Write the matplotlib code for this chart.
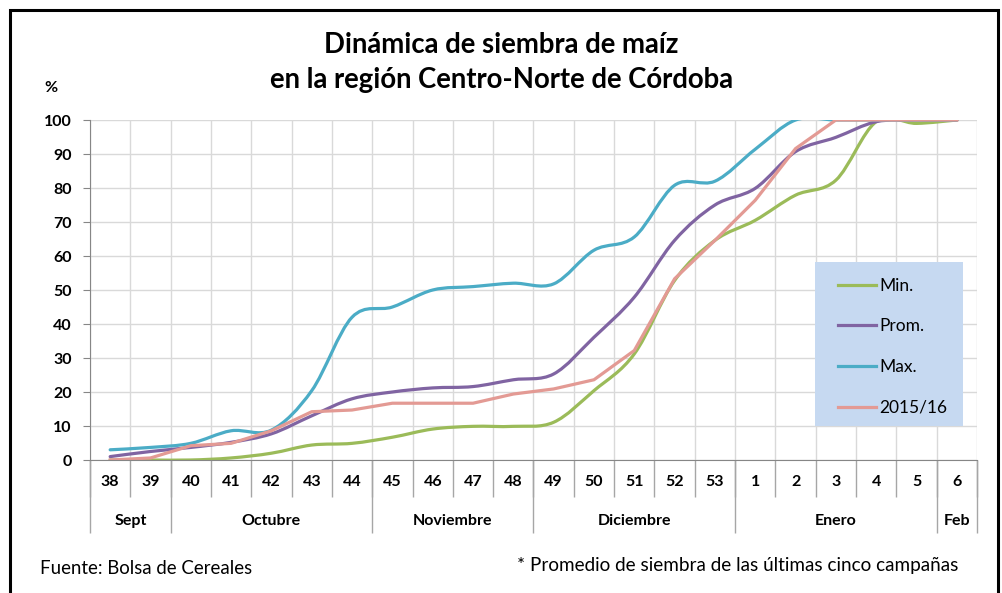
import numpy as np
import matplotlib
matplotlib.use('Agg')
import matplotlib.pyplot as plt
from matplotlib.path import Path
from matplotlib.patches import PathPatch, Rectangle
from matplotlib.lines import Line2D
import matplotlib.transforms as mtransforms

plt.rcParams['font.family'] = ['Lato', 'DejaVu Sans']

# semanas de siembra
weeks = ['38', '39', '40', '41', '42', '43', '44', '45', '46', '47', '48',
         '49', '50', '51', '52', '53', '1', '2', '3', '4', '5', '6']
months = ['Sept', 'Octubre', 'Noviembre', 'Diciembre', 'Enero', 'Feb']
month_span = [2, 5, 4, 5, 5, 1]

min_vals = [0, 0, 0, 0.6, 2, 4.4, 4.9, 6.7, 9.1, 9.9, 9.9,
            11.1, 20.4, 31.2, 52.8, 64.6, 70.5, 77.9, 82.3, 99.5, 99, 100]
prom_vals = [1, 2.5, 3.7, 5.2, 7.7, 13, 18, 20, 21.2, 21.6, 23.6,
             25.3, 36.1, 47.9, 64.6, 75, 79.9, 90.7, 94.9, 99.5, 100, 100]
max_vals = [3, 3.7, 4.9, 8.6, 8.8, 20.4, 42, 45, 50, 51, 52,
            51.8, 61.7, 65.6, 80.8, 82, 91.4, 100, 100, 100, 100, 100]
camp_vals = [0, 0.6, 4.2, 4.9, 8.6, 14.2, 14.7, 16.7, 16.7, 16.7, 19.4,
             20.9, 23.6, 32.2, 53.3, 64.6, 76.4, 91.6, 100, 100, 100, 100]

c_min = '#9BBB59'
c_prom = '#8064A2'
c_max = '#4BACC6'
c_camp = '#E39A94'


def smooth_path(y):
    # curva suavizada tipo Excel (Bezier por Catmull-Rom)
    x = np.arange(len(y), dtype=float)
    y = np.asarray(y, dtype=float)
    n = len(y)
    verts = [(x[0], y[0])]
    codes = [Path.MOVETO]
    for i in range(n - 1):
        i0 = max(i - 1, 0)
        i3 = min(i + 2, n - 1)
        c1 = (x[i] + (x[i + 1] - x[i0]) / 6, y[i] + (y[i + 1] - y[i0]) / 6)
        c2 = (x[i + 1] - (x[i3] - x[i]) / 6, y[i + 1] - (y[i3] - y[i]) / 6)
        verts += [c1, c2, (x[i + 1], y[i + 1])]
        codes += [Path.CURVE4] * 3
    return Path(verts, codes)


fig = plt.figure(figsize=(10.03, 5.93), dpi=100)
ax = fig.add_axes([90 / 1003, 1 - 460 / 593, 887 / 1003, 340 / 593])

lw = 2.3
for vals, col in [(min_vals, c_min), (prom_vals, c_prom), (max_vals, c_max)]:
    ax.add_patch(PathPatch(smooth_path(vals), fill=False, edgecolor=col,
                           lw=lw, capstyle='round', joinstyle='round', zorder=3))
ax.plot(range(len(weeks)), camp_vals, color=c_camp, lw=lw, zorder=3,
        solid_joinstyle='round')

ax.set_xlim(-0.5, len(weeks) - 0.5)
ax.set_ylim(0, 100)
ax.set_yticks(range(0, 101, 10))
ax.set_xticks(np.arange(-0.5, len(weeks), 1))
ax.set_xticklabels([])
ax.tick_params(axis='x', length=0)
ax.tick_params(axis='y', length=5, color='#868686', pad=8, labelsize=11.5)
for lab in ax.get_yticklabels():
    lab.set_fontweight('bold')
ax.grid(True, color='#D9D9D9', lw=1)
ax.set_axisbelow(True)
for s in ['top', 'right']:
    ax.spines[s].set_visible(False)
for s in ['left', 'bottom']:
    ax.spines[s].set_color('#868686')
    ax.spines[s].set_zorder(4)

# etiquetas de semanas y meses bajo el eje
trans = mtransforms.blended_transform_factory(ax.transData, ax.transAxes)
for i, w in enumerate(weeks):
    ax.text(i, -0.065, w, transform=trans, ha='center', va='center',
            fontsize=11.5, fontweight='bold')
bounds = np.cumsum([0] + month_span) - 0.5
ax.vlines(np.arange(-0.5, len(weeks), 1), -0.11, 0, transform=trans,
          colors='#A6A6A6', lw=1, clip_on=False)
ax.vlines(bounds, -0.215, 0, transform=trans, colors='#A6A6A6', lw=1,
          clip_on=False)
for m, a, b in zip(months, bounds[:-1], bounds[1:]):
    ax.text((a + b) / 2, -0.178, m, transform=trans, ha='center',
            va='center', fontsize=11.5, fontweight='bold')

# leyenda con fondo celeste
ax.add_patch(Rectangle((0.817, 0.1), 0.167, 0.482, transform=ax.transAxes,
                       facecolor='#C6D9F1', edgecolor='none', zorder=2.5))
handles = [Line2D([], [], color=c, lw=lw) for c in [c_min, c_prom, c_max, c_camp]]
leg = ax.legend(handles, ['Min.', 'Prom.', 'Max.', '2015/16'],
                loc='upper left', bbox_to_anchor=(0.843, 0.536),
                fontsize=12.5, frameon=False, labelspacing=1.42,
                handlelength=2.2, handletextpad=0.2, borderpad=0,
                borderaxespad=0)

fig.text(0.5, 1 - 53 / 593, 'Dinámica de siembra de maíz', ha='center',
         va='baseline', fontsize=19.8, fontweight='bold')
fig.text(0.5, 1 - 88 / 593, 'en la región Centro-Norte de Córdoba',
         ha='center', va='baseline', fontsize=19.8, fontweight='bold')
fig.text(51 / 1003, 1 - 88 / 593, '%', ha='center', va='center',
         fontsize=11.5, fontweight='bold')
fig.text(40 / 1003, 1 - 568 / 593, 'Fuente: Bolsa de Cereales', ha='left',
         va='center', fontsize=13.4)
fig.text(958 / 1003, 1 - 566 / 593,
         '* Promedio de siembra de las últimas cinco campañas', ha='right',
         va='center', fontsize=13.6)

fig.patches.append(Rectangle((10 / 1003, -0.1), 988 / 1003, 1.1 - 10 / 593,
                             transform=fig.transFigure, fill=False,
                             edgecolor='black', lw=2.2))

fig.savefig('out.png', dpi=100)
